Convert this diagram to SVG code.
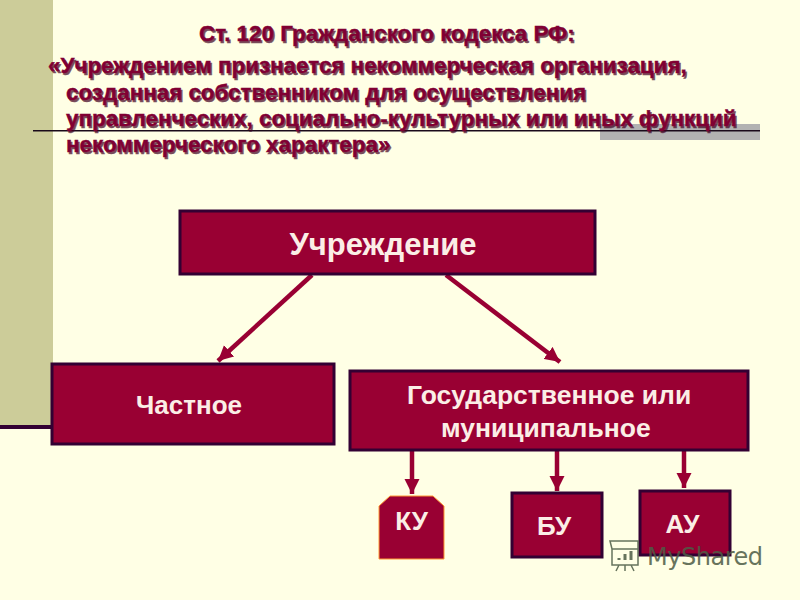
<svg xmlns="http://www.w3.org/2000/svg" width="800" height="600" viewBox="0 0 800 600">
<defs>
<marker id="a" markerUnits="userSpaceOnUse" markerWidth="16" markerHeight="16" refX="15" refY="8" orient="auto"><path d="M0 0.500L15 8L0 15.500Z" fill="#990033"/></marker>
</defs>
<style>
.n{fill:#990033;stroke:#330033;stroke-width:3}
.c{stroke:#990033;stroke-width:4.500;fill:none;marker-end:url(#a)}
text{font-family:"Liberation Sans",Arial,sans-serif;font-weight:bold}
.w{fill:#fbeee6}
.h{font-size:22.400px;fill:#800033;stroke:#800033;stroke-width:.4}
.s{fill:#400020;stroke:#400020;opacity:.7}
</style>
<rect width="800" height="600" fill="#ffffe5"/>
<rect x="0" y="0" width="53" height="426" fill="#cccc99"/>
<rect x="0" y="425" width="52" height="4" fill="#330033"/>
<rect x="600" y="124" width="160" height="16" fill="#b2b2b2"/>
<rect x="33" y="130" width="727" height="1.500" fill="#1a0a1a"/>
<g id="title">
<g class="h s" transform="translate(1.500 1.500)">
<text x="199" y="41">Ст. 120 Гражданского кодекса РФ:</text>
<text x="48" y="73">«Учреждением признается некоммерческая организация,</text>
<text x="66" y="100">созданная собственником для осуществления</text>
<text x="66" y="126">управленческих, социально-культурных или иных функций</text>
<text x="66" y="152">некоммерческого характера»</text>
</g>
<g class="h">
<text x="199" y="41">Ст. 120 Гражданского кодекса РФ:</text>
<text x="48" y="73">«Учреждением признается некоммерческая организация,</text>
<text x="66" y="100">созданная собственником для осуществления</text>
<text x="66" y="126">управленческих, социально-культурных или иных функций</text>
<text x="66" y="152">некоммерческого характера»</text>
</g>
</g>
<g id="connectors">
<path class="c" d="M312 275L218 361"/>
<path class="c" d="M446 275L560 362"/>
<path class="c" d="M412 450V494"/>
<path class="c" d="M557 450V491"/>
<path class="c" d="M684 450V488"/>
</g>
<g id="uchrezhdenie"><rect class="n" x="180" y="211" width="415" height="63"/><text class="w" x="383" y="255" text-anchor="middle" font-size="31">Учреждение</text></g>
<g id="chastnoe"><rect class="n" x="52" y="364" width="282" height="80"/><text class="w" x="189" y="414" text-anchor="middle" font-size="26">Частное</text></g>
<g id="gos"><rect class="n" x="350" y="371" width="398" height="79"/><text class="w" x="407" y="404" font-size="26.500">Государственное или</text><text class="w" x="441" y="437" font-size="26.500">муниципальное</text></g>
<g id="ku"><path d="M379 506L390 496H433L444 506V559H379Z" fill="#990033" stroke="#ff9933" stroke-width="1"/><text class="w" x="411.500" y="530" text-anchor="middle" font-size="26">КУ</text></g>
<g id="bu"><rect class="n" x="512" y="493" width="90" height="64"/><text class="w" x="554" y="535" text-anchor="middle" font-size="26">БУ</text></g>
<g id="au"><rect class="n" x="640" y="491" width="90" height="64"/><text class="w" x="682.500" y="533" text-anchor="middle" font-size="26">АУ</text></g>
<g id="watermark" fill="none" stroke="#4d5c45" stroke-width="1.500" opacity=".85">
<path d="M612 549H638V565H612ZM610 541H638V549H612ZM619 565L616 571M631 565L634 571M625 565V571"/>
<path d="M619 560V558M625 560V554M631 560V551" stroke-width="3"/>
<text x="647" y="565" font-size="24" fill="#4d5c45" stroke="none" style="font-family:'DejaVu Sans',sans-serif;font-weight:normal" textLength="116">MyShared</text>
</g>
</svg>
